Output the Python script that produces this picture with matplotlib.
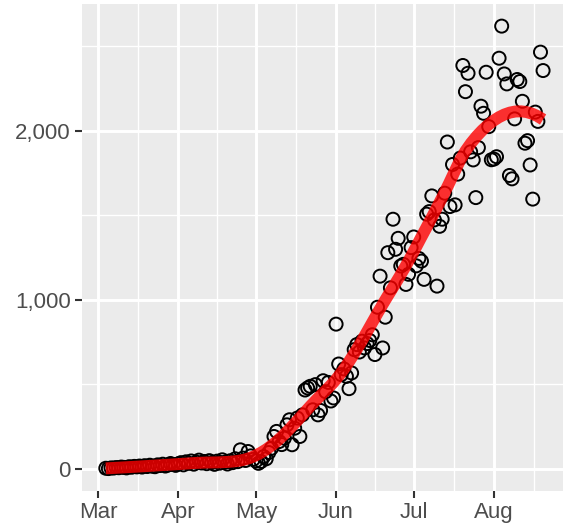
import numpy as np
import matplotlib
matplotlib.use("Agg")
import matplotlib.dates as mdates
from matplotlib import pyplot as plt

# daily counts, one value per day from 2020-03-04
mar = [2, 0, 4, 3, 6, 5, 9, 7, 4, 11, 8, 13, 10, 15, 9, 17, 12, 20, 14, 11,
       22, 18, 26, 15, 21, 30, 24, 19]
apr = [28, 35, 22, 40, 31, 45, 26, 38, 50, 33, 42, 29, 47, 36, 25, 44, 32, 52,
       38, 27, 46, 35, 58, 41, 111, 62, 48, 101, 75, 55]
may = [45, 31, 42, 71, 58, 95, 120, 190, 220, 160, 142, 180, 259, 289, 141,
       239, 299, 190, 318, 465, 477, 487, 348, 497, 318, 344, 520, 455, 510,
       400, 418]
jun = [855, 619, 556, 590, 546, 473, 566, 704, 734, 690, 754, 714, 740, 758,
       792, 675, 955, 1139, 714, 896, 1278, 1070, 1476, 1298, 1363, 1199, 1209,
       1090, 1150, 1308]
jul = [1371, 1200, 1244, 1228, 1120, 1506, 1521, 1614, 1472, 1080, 1434, 1476,
       1630, 1933, 1551, 1800, 1561, 1743, 1838, 2386, 2231, 2340, 1875, 1827,
       1604, 1900, 2145, 2103, 2346, 2024, 1828]
aug = [1832, 1846, 2429, 2619, 2336, 2277, 1735, 1715, 2070, 2303, 2291, 2174,
       1926, 1941, 1797, 1595, 2110, 2055, 2465, 2356]

start_date = "2020-03-04"
month_starts = ["2020-03-01", "2020-04-01", "2020-05-01", "2020-06-01",
                "2020-07-01", "2020-08-01"]
y_breaks = [0, 1000, 2000]
y_labels = ["0", "1,000", "2,000"]

cases = np.array(mar + apr + may + jun + jul + aug, dtype=float)
dates = np.datetime64(start_date) + np.arange(len(cases))
x = mdates.date2num(dates.astype("datetime64[D]").astype(object))


def loess(xv, yv, xs, span=0.75):
    # local quadratic fit with tricube weights
    n = len(xv)
    q = int(np.floor(n * span))
    fit = []
    for x0 in xs:
        d = np.abs(xv - x0)
        h = np.sort(d)[q - 1]
        w = np.clip(1 - (d / h) ** 3, 0, None) ** 3
        X = np.column_stack([np.ones(n), xv - x0, (xv - x0) ** 2])
        sw = np.sqrt(w)
        beta = np.linalg.lstsq(X * sw[:, None], yv * sw, rcond=None)[0]
        fit.append(beta[0])
    return np.array(fit)


xs = np.linspace(x.min(), x.max(), 80)
ys = loess(x, cases, xs, span=0.4)

plt.rcParams['font.family'] = ['Liberation Sans', 'DejaVu Sans']
fig = plt.figure(figsize=(5.63, 5.29), dpi=100)
ax = fig.add_axes([82 / 563, (529 - 490.7) / 529, 481 / 563, (490.7 - 4) / 529])
ax.set_facecolor("#EBEBEB")
for s in ax.spines.values():
    s.set_visible(False)

ax.scatter(x, cases, s=88, facecolors="none", edgecolors="black", linewidths=1.4, zorder=3)
ax.plot(xs, ys, color="red", alpha=0.8, lw=8.6, solid_capstyle="butt", zorder=4)

mnum = mdates.date2num([np.datetime64(m).astype(object) for m in month_starts])
ax.set_xticks(mnum)
ax.xaxis.set_major_formatter(mdates.DateFormatter("%b"))
step = np.diff(mnum)
minor_x = list(mnum[:-1] + step / 2) + [mnum[-1] + 15.5]
ax.set_xticks(minor_x, minor=True)
ax.set_yticks(y_breaks)
ax.set_yticklabels(y_labels)
ax.set_yticks([500, 1500, 2500], minor=True)

# 5% padding like ggplot; right side runs past the image edge
ax.set_xlim(mnum[0] - 6.2, mnum[0] + 179.7)
rng = cases.max() - cases.min()
ax.set_ylim(cases.min() - 0.05 * rng, cases.max() + 0.05 * rng)

ax.grid(which="major", color="white", lw=2.1)
ax.grid(which="minor", color="white", lw=1.0)
ax.set_axisbelow(True)
ax.tick_params(which="major", length=5, width=1.5, color="#333333",
               labelsize=16, labelcolor="#4D4D4D", pad=3)
ax.tick_params(which="minor", length=0)

fig.savefig("out.png", dpi=100)
